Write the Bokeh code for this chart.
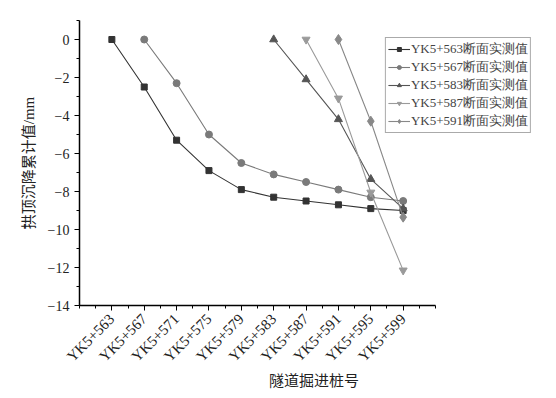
import math
from bokeh.plotting import figure
from bokeh.models import FixedTicker, Legend, LegendItem, Range1d
from bokeh.embed import file_html
from bokeh.resources import INLINE

stations = ["YK5+563", "YK5+567", "YK5+571", "YK5+575", "YK5+579",
            "YK5+583", "YK5+587", "YK5+591", "YK5+595", "YK5+599"]

s563_x = [1, 2, 3, 4, 5, 6, 7, 8, 9, 10]
s563_y = [0, -2.5, -5.3, -6.9, -7.9, -8.3, -8.5, -8.7, -8.9, -9.0]
s567_x = [2, 3, 4, 5, 6, 7, 8, 9, 10]
s567_y = [0, -2.3, -5.0, -6.5, -7.1, -7.5, -7.9, -8.3, -8.5]
s583_x = [6, 7, 8, 9, 10]
s583_y = [0, -2.1, -4.2, -7.35, -8.9]
s587_x = [7, 8, 9, 10]
s587_y = [0, -3.1, -8.05, -12.15]
s591_x = [8, 9, 10]
s591_y = [0, -4.3, -9.35]

series_names = ["YK5+563断面实测值", "YK5+567断面实测值", "YK5+583断面实测值",
                "YK5+587断面实测值", "YK5+591断面实测值"]

y_ticks = [0, -2, -4, -6, -8, -10, -12, -14]

FONT = "Liberation Serif, Noto Sans CJK SC"

# frame spans ~469 px; the x axis itself only spans 0..11
p = figure(width=550, height=396, output_backend="svg", toolbar_location=None,
           x_range=Range1d(0, 14.49), y_range=Range1d(-14, 1),
           min_border_left=79, min_border_right=2, min_border_top=20,
           min_border_bottom=91)
p.outline_line_color = None
p.grid.grid_line_color = None
p.background_fill_color = "white"

series = [
    (s563_x, s563_y, "#333333", "square", 6),
    (s567_x, s567_y, "#7a7a7a", "circle", 7),
    (s583_x, s583_y, "#555555", "triangle", 8),
    (s587_x, s587_y, "#9a9a9a", "inverted_triangle", 8),
    (s591_x, s591_y, "#888888", "diamond", 10),
]

items = []
for (xs, ys, col, mk, sz), name in zip(series, series_names):
    r1 = p.line(xs, ys, line_color=col, line_width=1.1)
    r2 = p.scatter(xs, ys, marker=mk, size=sz, fill_color=col, line_color=col)
    items.append(LegendItem(label=name, renderers=[r1, r2]))

legend = Legend(items=items, location="top_right", orientation="vertical",
                label_text_font="Liberation Serif", label_text_font_size="13px",
                label_text_line_height=0.9,
                label_height=10, glyph_height=10, glyph_width=22, spacing=0,
                padding=2, margin=17, label_standoff=1,
                border_line_color="#555555", border_line_width=1.5,
                background_fill_alpha=1)
p.add_layout(legend, "center")

p.xaxis.ticker = FixedTicker(ticks=list(range(1, 11)),
                             minor_ticks=[i * 0.5 for i in range(0, 23)])
p.xaxis.bounds = (0, 11)
p.xaxis.major_label_overrides = {i + 1: s for i, s in enumerate(stations)}
p.xaxis.major_label_orientation = math.pi / 4
p.yaxis.ticker = FixedTicker(ticks=y_ticks, minor_ticks=list(range(-14, 2)))
p.yaxis.major_label_overrides = {t: (str(t).replace("-", "\u2212")) for t in y_ticks}

for ax in (p.xaxis[0], p.yaxis[0]):
    ax.axis_line_color = "black"
    ax.axis_line_width = 1.5
    ax.major_tick_line_color = "black"
    ax.minor_tick_line_color = "black"
    ax.major_tick_out = 5
    ax.major_tick_in = 0
    ax.minor_tick_out = 3
    ax.minor_tick_in = 0
    ax.major_label_text_font = FONT
    ax.major_label_text_color = "#222222"
    ax.axis_label_text_font = FONT
    ax.axis_label_text_font_size = "15px"
    ax.axis_label_text_font_style = "normal"
    ax.axis_label_text_color = "#222222"

p.xaxis.major_label_text_font_size = "15px"
p.yaxis.major_label_text_font_size = "14px"
p.xaxis.axis_label = "隧道掘进桩号"
p.yaxis.axis_label = "拱顶沉降累计值/mm"
p.xaxis.major_label_standoff = 6
p.xaxis.axis_label_standoff = 0
p.yaxis.axis_label_standoff = 8

open("out.html", "w").write(file_html(p, INLINE))
